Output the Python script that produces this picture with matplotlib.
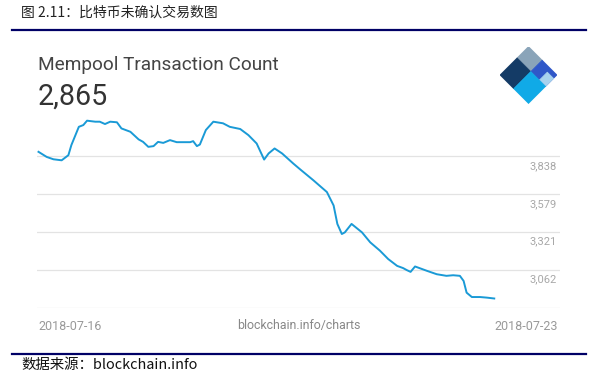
import matplotlib.pyplot as plt
from matplotlib.patches import Polygon

# mempool transaction count, days after 2018-07-16
days = [0.02, 0.13, 0.22, 0.33, 0.42, 0.46, 0.56, 0.62, 0.67, 0.78, 0.84, 0.91,
        0.98, 1.07, 1.13, 1.25, 1.36, 1.42, 1.49, 1.56, 1.62, 1.69, 1.78, 1.87,
        2.05, 2.09, 2.14, 2.18, 2.26, 2.36, 2.49, 2.58, 2.72, 2.83, 2.94, 3.04,
        3.10, 3.18, 3.28, 3.43, 3.52, 3.70, 3.88, 3.97, 4.02, 4.08, 4.12, 4.21,
        4.35, 4.46, 4.59, 4.70, 4.82, 4.90, 4.95, 5.00, 5.06, 5.22, 5.35, 5.48,
        5.57, 5.66, 5.71, 5.75, 5.82, 5.93, 6.02, 6.12]
counts = [3868, 3833, 3817, 3810, 3845, 3914, 4039, 4051, 4081, 4074, 4074, 4058,
          4074, 4070, 4028, 4005, 3953, 3936, 3902, 3907, 3936, 3929, 3948, 3934,
          3934, 3941, 3907, 3918, 4017, 4074, 4063, 4039, 4024, 3982, 3925, 3815,
          3857, 3891, 3857, 3788, 3749, 3673, 3593, 3501, 3375, 3306, 3317, 3375,
          3317, 3249, 3192, 3135, 3088, 3073, 3059, 3047, 3084, 3054, 3031, 3020,
          3024, 3020, 2985, 2905, 2875, 2875, 2871, 2865]

grid_vals = [2803, 3062, 3321, 3579, 3838]
date_labels = ["2018-07-16", "2018-07-23"]
latest = "2,865"

W, H = 597, 378
CJK = ["Noto Sans CJK SC", "DejaVu Sans"]


def px(x, y):
    return x / W, 1 - y / H


fig = plt.figure(figsize=(W / 100, H / 100), dpi=100)

# header / footer
fig.text(*px(21, 13), "图 2.11：比特币未确认交易数图", family=CJK, fontsize=10,
         color="#222222", va="center", ha="left")
fig.add_artist(plt.Line2D([12 / W, 586 / W], [1 - 30 / H] * 2, color="#000066", lw=1.6))
fig.add_artist(plt.Line2D([12 / W, 586 / W], [1 - 354 / H] * 2, color="#000066", lw=1.6))
fig.text(*px(21, 365), "数据来源：blockchain.info", family=CJK, fontsize=10.4,
         color="#111111", va="center", ha="left")

# titles
fig.text(*px(38, 69.5), "Mempool Transaction Count", family="Roboto", fontsize=13.7,
         color="#444444", va="baseline")
fig.text(*px(38, 105), latest, family="Roboto", fontsize=20.6, color="#333333",
         va="baseline")

# main chart
ax = fig.add_axes([37 / W, 1 - 308 / H, (560 - 37) / W, (308 - 110) / H])
ax.plot(days, counts, color="#1a9ad6", lw=1.4, solid_joinstyle="round")
ax.set_xlim(0, 7)
ax.set_ylim(2800, 4154)
for v in grid_vals:
    ax.axhline(v, color="#e3e3e3", lw=0.9, zorder=0)
for v in grid_vals[1:]:
    ax.annotate(f"{v:,}", (0.993, v), xycoords=("axes fraction", "data"),
                xytext=(0, -3.5), textcoords="offset points", ha="right", va="top",
                family="Roboto", fontsize=8, color="#a8a8a8")
for s in ax.spines.values():
    s.set_visible(False)
ax.set_yticks([])
ax.set_xticks([])
ax.text(0.002, -0.095, date_labels[0], transform=ax.transAxes, ha="left", va="center",
        family="Roboto", fontsize=9, color="#999999")
ax.text(0.996, -0.095, date_labels[1], transform=ax.transAxes, ha="right", va="center",
        family="Roboto", fontsize=9, color="#999999")
fig.text(*px(299, 326), "blockchain.info/charts", family="Roboto", fontsize=8.9,
         color="#888888", ha="center", va="center")

# logo
lax = fig.add_axes([500 / W, 1 - 103.5 / H, 57 / W, 57 / H])
lax.set_xlim(-1, 1)
lax.set_ylim(-1, 1)
lax.axis("off")


def cell(a0, a1, b0, b1, color):
    pts = [(a - b, 1 - a - b) for a, b in [(a0, b0), (a1, b0), (a1, b1), (a0, b1)]]
    lax.add_patch(Polygon(pts, closed=True, fc=color, ec=color, lw=0.5, joinstyle="round"))


cell(0, 0.48, 0, 0.4, "#8aa4b9")
cell(0, 0.48, 0.4, 1, "#143b66")
cell(0.48, 1, 0, 0.4, "#2f57c8")
cell(0.78, 1, 0.12, 0.4, "#a8d2ee")
cell(0.48, 1, 0.4, 1, "#10aae7")

fig.savefig("out.png", dpi=100, facecolor="white")
